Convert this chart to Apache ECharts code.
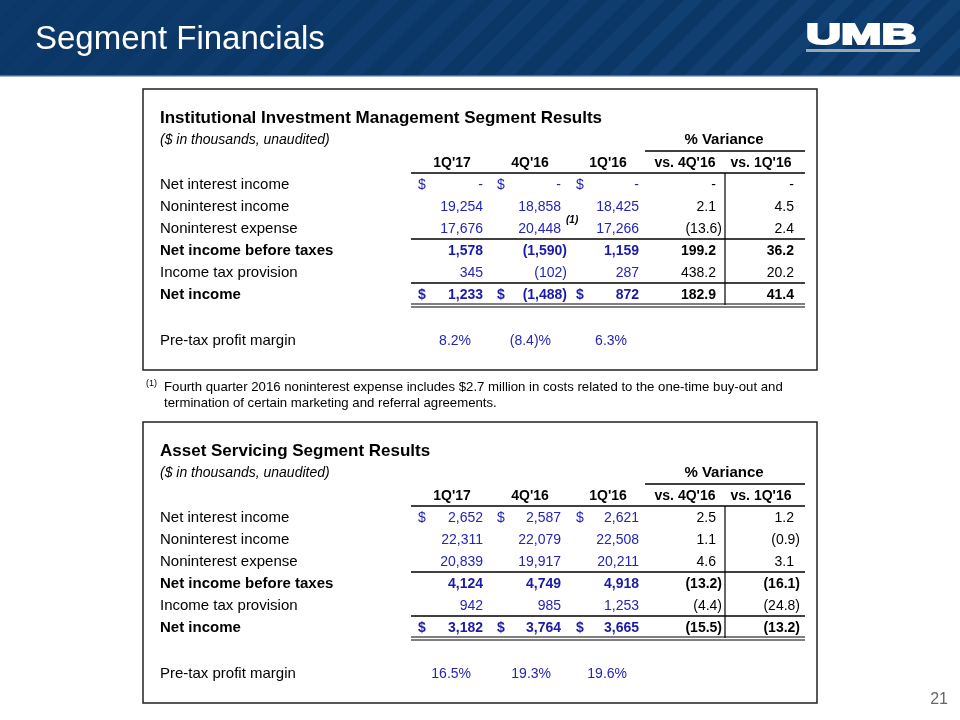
<!DOCTYPE html>
<html><head><meta charset="utf-8">
<script src="https://cdn.jsdelivr.net/npm/echarts@6/dist/echarts.min.js"></script>
<style>html,body{margin:0;padding:0;background:#fff}#c{width:960px;height:720px}</style>
</head><body><div id="c"></div>
<script>
// ---------- data ----------
const slideTitle = 'Segment Financials';
const rowLabels = ['Net interest income','Noninterest income','Noninterest expense','Net income before taxes','Income tax provision','Net income'];
const boldRows = [false,false,false,true,false,true];
const dollarRows = [true,false,false,false,false,true];
const periodHeads = ["1Q'17","4Q'16","1Q'16"];
const varianceHeads = ["vs. 4Q'16","vs. 1Q'16"];
const marginLabel = 'Pre-tax profit margin';

const iimTitle = 'Institutional Investment Management Segment Results';
const iim1Q17 = [0, 19254, 17676, 1578, 345, 1233];
const iim4Q16 = [0, 18858, 20448, -1590, -102, -1488];
const iim1Q16 = [0, 18425, 17266, 1159, 287, 872];
const iimVs4Q16 = [0, 2.1, -13.6, 199.2, 438.2, 182.9];
const iimVs1Q16 = [0, 4.5, 2.4, 36.2, 20.2, 41.4];
const iimMargin = [8.2, -8.4, 6.3];

const asTitle = 'Asset Servicing Segment Results';
const as1Q17 = [2652, 22311, 20839, 4124, 942, 3182];
const as4Q16 = [2587, 22079, 19917, 4749, 985, 3764];
const as1Q16 = [2621, 22508, 20211, 4918, 1253, 3665];
const asVs4Q16 = [2.5, 1.1, 4.6, -13.2, -4.4, -15.5];
const asVs1Q16 = [1.2, -0.9, 3.1, -16.1, -24.8, -13.2];
const asMargin = [16.5, 19.3, 19.6];

const footnote1 = 'Fourth quarter 2016 noninterest expense includes $2.7 million in costs related to the one-time buy-out and';
const footnote2 = 'termination of certain marketing and referral agreements.';
const pageNumber = '21';

// ---------- rendering ----------
const FONT = '"Liberation Sans", Arial, sans-serif';
const BLUE = '#2424b8';
const BLUEB = '#1a1aa8';
const els = [];
function txt(x, y, s, o) {
  o = o || {};
  const st = {
    text: s, fontFamily: o.family || FONT, fontSize: o.size || 14,
    fontWeight: o.weight || 'normal', fontStyle: o.style || 'normal',
    fill: o.color || '#000',
    align: o.align || 'left', verticalAlign: 'middle',
    textAlign: o.align || 'left', textVerticalAlign: 'middle'
  };
  if (o.stroke) { st.stroke = o.stroke; st.lineWidth = o.strokeWidth || 1; }
  els.push({ type: 'text', x: x, y: y, z: 10, scaleX: o.scaleX || 1, style: st });
}
function line(x1, y1, x2, y2, w, c) {
  els.push({ type: 'line', z: 5, shape: { x1, y1, x2, y2 }, style: { stroke: c || '#000', lineWidth: w || 1 } });
}
function rect(x, y, w, h, fill, stroke, lw, z) {
  els.push({ type: 'rect', z: (z === undefined ? 1 : z), shape: { x, y, width: w, height: h },
    style: { fill: fill || 'none', stroke: stroke || null, lineWidth: lw || 0 } });
}
function fmtNum(v) {
  if (v === 0) return '-';
  const s = Math.abs(v).toLocaleString('en-US');
  return v < 0 ? '(' + s + ')' : s;
}
function fmtVar(v) {
  if (v === 0) return '-';
  const s = Math.abs(v).toFixed(1);
  return v < 0 ? '(' + s + ')' : s;
}
function fmtPct(v) {
  const s = Math.abs(v).toFixed(1);
  return v < 0 ? '(' + s + ')%' : s + '%';
}

// header band
rect(0, 0, 960, 76, '#0b3767', null, 0, 0);
for (let i = -4; i < 34; i++) {
  const x0 = i * 38;
  els.push({ type: 'polygon', z: 1,
    shape: { points: [[x0, 76], [x0 + 19, 76], [x0 + 19 + 76, 0], [x0 + 76, 0]] },
    style: { fill: '#1d4f88', opacity: Math.min(0.42, 0.1 + Math.max(0, i) * 0.014) } });
}
rect(0, 75, 960, 1.5, '#4a6f96', null, 0, 2);
txt(35, 40, slideTitle, { size: 33, color: '#fff' });
txt(806, 36, 'UMB', { size: 30, weight: 'bold', color: '#fff', scaleX: 1.62, stroke: '#fff', strokeWidth: 2 });
rect(806, 49, 114, 3, '#9aa6b2', null, 0, 3);

const colRight = [483, 561, 639, 716, 794];
const dollarX = [418, 497, 576];
const headCenter = [452, 530, 608, 685, 761];
const marginRight = [471, 551, 627];

function drawTable(top, title, cols, vars, margin) {
  rect(143, top, 674, 281, '#fff', '#222', 1.5, 1);
  txt(160, top + 29, title, { size: 17, weight: 'bold' });
  txt(160, top + 51, '($ in thousands, unaudited)', { size: 14, style: 'italic' });
  txt(724, top + 51, '% Variance', { size: 15, weight: 'bold', align: 'center' });
  line(645, top + 62, 805, top + 62, 1.5);
  periodHeads.forEach((h, i) => txt(headCenter[i], top + 74, h, { weight: 'bold', align: 'center' }));
  varianceHeads.forEach((h, i) => txt(headCenter[3 + i], top + 74, h, { weight: 'bold', align: 'center' }));
  line(411, top + 84, 805, top + 84, 1.5);
  const rowY = [96, 118, 140, 162, 184, 206].map(d => top + d);
  rowLabels.forEach((lab, r) => {
    const b = boldRows[r] ? 'bold' : 'normal';
    txt(160, rowY[r], lab, { weight: b, size: 15 });
    cols.forEach((arr, c) => {
      const v = arr[r];
      txt(colRight[c] + (v < 0 ? 6 : 0), rowY[r], fmtNum(v), { weight: b, color: boldRows[r] ? BLUEB : BLUE, align: 'right' });
      if (dollarRows[r]) txt(dollarX[c], rowY[r], '$', { weight: b, color: boldRows[r] ? BLUEB : BLUE });
    });
    vars.forEach((arr, c) => {
      const v = arr[r];
      txt(colRight[3 + c] + (v < 0 ? 6 : 0), rowY[r], fmtVar(v), { weight: b, align: 'right' });
    });
  });
  line(411, top + 150, 805, top + 150, 1.5);
  line(411, top + 194, 805, top + 194, 1.5);
  line(411, top + 215, 805, top + 215, 1.2);
  line(411, top + 218, 805, top + 218, 1.2);
  line(725, top + 84, 725, top + 216, 1.2);
  txt(160, top + 252, marginLabel, { size: 15 });
  margin.forEach((v, c) => txt(marginRight[c], top + 252, fmtPct(v), { color: BLUE, align: 'right' }));
}

drawTable(89, iimTitle, [iim1Q17, iim4Q16, iim1Q16], [iimVs4Q16, iimVs1Q16], iimMargin);
txt(566, 89 + 131, '(1)', { size: 10, style: 'italic', weight: 'bold' });
drawTable(422, asTitle, [as1Q17, as4Q16, as1Q16], [asVs4Q16, asVs1Q16], asMargin);

txt(146, 384, '(1)', { size: 9 });
txt(164, 387, footnote1, { size: 13.2 });
txt(164, 403, footnote2, { size: 13.2 });
txt(948, 700, pageNumber, { size: 16, color: '#666', align: 'right' });

const chart = echarts.init(document.getElementById('c'), null, { renderer: 'canvas' });
chart.setOption({ backgroundColor: '#fff', animation: false, graphic: { elements: els } });
</script></body></html>
